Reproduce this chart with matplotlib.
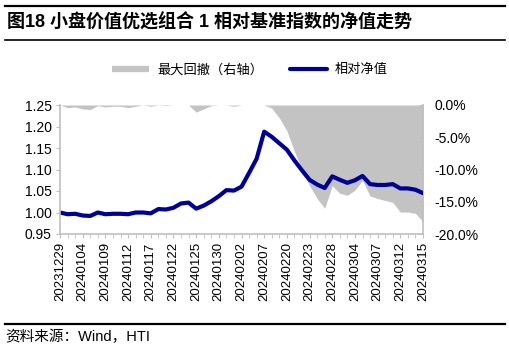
import numpy as np
import matplotlib
matplotlib.use('Agg')
import matplotlib.pyplot as plt
from matplotlib.lines import Line2D
from matplotlib.ticker import FuncFormatter, MultipleLocator

plt.rcParams['font.family'] = ['Liberation Sans', 'Noto Sans CJK SC']

dates = ['20231229', '20240102', '20240103', '20240104', '20240105', '20240108',
         '20240109', '20240110', '20240111', '20240112', '20240115', '20240116',
         '20240117', '20240118', '20240119', '20240122', '20240123', '20240124',
         '20240125', '20240126', '20240129', '20240130', '20240131', '20240201',
         '20240202', '20240205', '20240206', '20240207', '20240208', '20240219',
         '20240220', '20240221', '20240222', '20240223', '20240226', '20240227',
         '20240228', '20240229', '20240301', '20240304', '20240305', '20240306',
         '20240307', '20240308', '20240311', '20240312', '20240313', '20240314',
         '20240315']

# relative net value (left axis)
nav = [1.000, 0.996, 0.997, 0.993, 0.992, 1.000, 0.996, 0.997, 0.997, 0.996,
       1.000, 1.000, 0.998, 1.008, 1.007, 1.011, 1.021, 1.023, 1.009, 1.016,
       1.026, 1.038, 1.052, 1.051, 1.060, 1.092, 1.125, 1.188, 1.176, 1.161,
       1.146, 1.121, 1.098, 1.076, 1.065, 1.057, 1.084, 1.076, 1.069, 1.075,
       1.085, 1.066, 1.064, 1.064, 1.066, 1.056, 1.056, 1.053, 1.045]

# max drawdown in % (right axis)
drawdown = [0.0, -0.4, -0.3, -0.6, -0.7, -0.1, -0.3, -0.2, -0.2, -0.4,
            -0.2, 0.0, -0.2, 0.0, -0.1, 0.0, 0.0, 0.0, -1.1, -0.6,
            -0.1, 0.0, 0.0, -0.2, 0.0, 0.0, 0.0, 0.0, -0.5, -2.0,
            -4.0, -7.2, -10.0, -12.5, -14.5, -16.0, -12.5, -13.7, -14.0, -13.2,
            -11.7, -14.1, -14.5, -14.8, -15.1, -16.6, -16.6, -16.8, -18.1]

x = np.arange(len(dates))
dd = np.array(drawdown) / 100

fig = plt.figure(figsize=(5.1, 3.5), dpi=100)
ax = fig.add_axes([60 / 510, 1 - 234 / 350, 363 / 510, 129 / 350])
ax2 = ax.twinx()

ax2.fill_between(x, 0, dd, color='#C3C3C3', lw=0, label='最大回撤（右轴）')
ax.plot(x, nav, color='#000096', lw=3.0, label='相对净值', solid_capstyle='round')
ax.set_zorder(ax2.get_zorder() + 1)
ax.patch.set_visible(False)

ax.set_xlim(0, 48)
ax.set_ylim(0.95, 1.25)
ax.yaxis.set_major_locator(MultipleLocator(0.05))
ax.yaxis.set_major_formatter(FuncFormatter(lambda v, p: '%.2f' % v))
ax2.set_ylim(-0.20, 0)
ax2.yaxis.set_major_locator(MultipleLocator(0.05))
ax2.yaxis.set_major_formatter(FuncFormatter(lambda v, p: '%.1f%%' % (v * 100)))

ax.set_xticks(x[::3])
ax.set_xticklabels(dates[::3], rotation=90, fontsize=9.5)
ax.set_xticks(x, minor=True)

gray = '#BFBFBF'
for a in (ax, ax2):
    for s in a.spines.values():
        s.set_color(gray)
    a.spines['top'].set_visible(False)
ax.spines['right'].set_visible(False)
ax2.spines['left'].set_visible(False)
ax2.spines['bottom'].set_visible(False)
ax.spines['left'].set_linewidth(1.2)
ax.spines['bottom'].set_linewidth(1.2)
ax2.spines['right'].set_linewidth(1.2)

ax.tick_params(axis='y', colors=gray, labelcolor='black', labelsize=10, length=3, pad=3)
ax.tick_params(axis='x', which='both', colors=gray, labelcolor='black', length=3, pad=3)
ax2.tick_params(axis='y', colors=gray, labelcolor='black', labelsize=10, length=3,
                direction='in', pad=8)

handles = [Line2D([], [], color='#C3C3C3', lw=4.5, solid_capstyle='butt'),
           Line2D([], [], color='#000096', lw=3.0, solid_capstyle='round')]
fig.legend(handles, ['最大回撤（右轴）', '相对净值'], loc='center',
           bbox_to_anchor=(0.49, 1 - 70 / 350), ncol=2, frameon=False,
           fontsize=9.5, handlelength=2.8, handletextpad=0.6, columnspacing=2.0)

fig.text(7 / 510, 1 - 22 / 350, '图18 小盘价值优选组合 1 相对基准指数的净值走势',
         fontsize=13, fontweight='bold', va='center', ha='left')
fig.text(5 / 510, 1 - 337 / 350, '资料来源：Wind，HTI', fontsize=10.5,
         va='center', ha='left')

for yy, lw in ((1 - 6 / 350, 1.6), (1 - 40 / 350, 1.2), (1 - 324 / 350, 1.6)):
    fig.add_artist(Line2D([5 / 510, 505 / 510], [yy, yy], color='black', lw=lw))

fig.savefig('out.png', dpi=100)
